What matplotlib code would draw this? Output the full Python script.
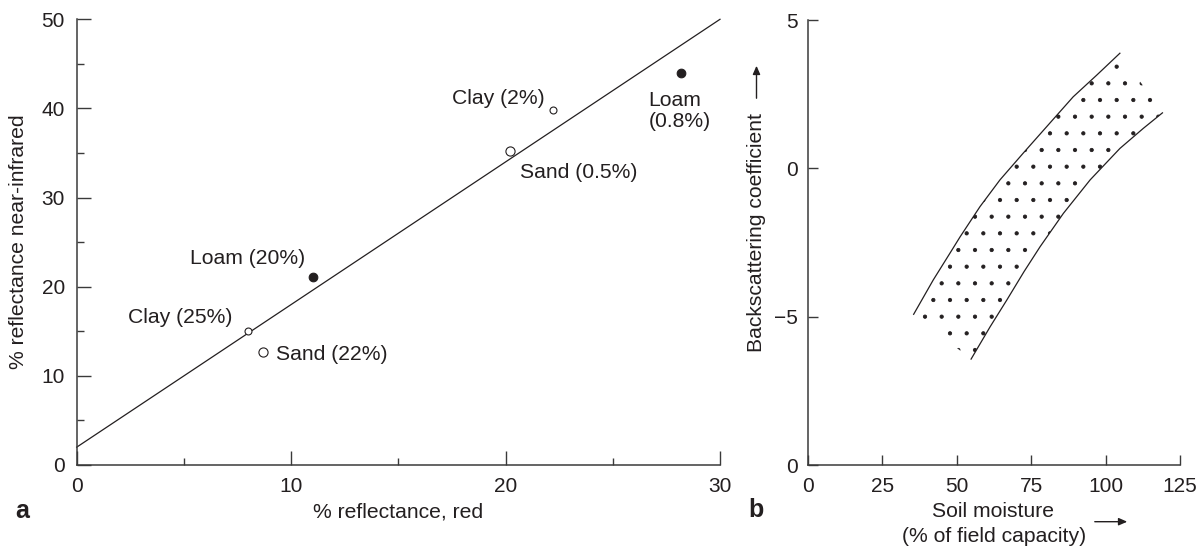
import matplotlib
matplotlib.use("Agg")
import matplotlib.pyplot as plt
from matplotlib.patches import FancyArrowPatch
import numpy as np

plt.rcParams['font.family'] = ['Liberation Sans', 'DejaVu Sans']
plt.rcParams['hatch.linewidth'] = 0.6

INK = '#231f20'
AXC = '#3a3a3a'

# ── panel a: soil reflectance, red vs near-infrared ──────────────────────────
soil_labels = ["Clay (25%)", "Sand (22%)", "Loam (20%)",
               "Clay (2%)", "Sand (0.5%)", "Loam\n(0.8%)"]
soil_kind = ["clay", "sand", "loam", "clay", "sand", "loam"]
red_refl = [8.0, 8.7, 11.0, 22.2, 20.2, 28.2]
nir_refl = [15.0, 12.7, 21.1, 39.8, 35.2, 44.0]

soil_line_x = [0, 30]
soil_line_y = [2, 50]

# ── panel b: backscatter band vs soil moisture ───────────────────────────────
upper_x = [35.5, 42.1, 47.7, 51.1, 57.8, 64.5, 72.3, 79.1, 89.1, 97.0, 104.8]
upper_y = [-4.92, -3.76, -2.86, -2.31, -1.29, -0.39, 0.51, 1.28, 2.41, 3.14, 3.88]
lower_x = [54.8, 61.2, 66.8, 72.6, 78.0, 85.8, 94.8, 104.8, 112.7, 119.1]
lower_y = [-6.43, -5.34, -4.44, -3.48, -2.64, -1.52, -0.39, 0.67, 1.35, 1.87]

b_yticks = [-10, -5, 0, 5]
b_yticklabels = ["0", "\u22125", "0", "5"]
b_xticks = [0, 25, 50, 75, 100, 125]

W, H = 1204, 548
fig = plt.figure(figsize=(W / 100, H / 100), dpi=100)


def px_axes(x0, y0, x1, y1):
    return fig.add_axes([x0 / W, 1 - y1 / H, (x1 - x0) / W, (y1 - y0) / H])


def style(ax):
    for s in ("top", "right"):
        ax.spines[s].set_visible(False)
    for s in ("left", "bottom"):
        ax.spines[s].set_color(AXC)
        ax.spines[s].set_linewidth(1.1)
    ax.tick_params(which="both", direction="in", colors=AXC, width=1.0,
                   labelcolor=INK, labelsize=15)


# panel a
ax1 = px_axes(76.7, 19.3, 720, 465)
style(ax1)
ax1.set_xlim(0, 30)
ax1.set_ylim(0, 50)
ax1.set_xticks([0, 10, 20, 30])
ax1.set_xticks([5, 15, 25], minor=True)
ax1.set_yticks([0, 10, 20, 30, 40, 50])
ax1.set_yticks([5, 15, 25, 35, 45], minor=True)
ax1.tick_params(which="major", length=10)
ax1.tick_params(which="minor", length=5)
ax1.tick_params(axis="y", pad=8.5)
ax1.tick_params(axis="x", pad=8.5)

ax1.plot(soil_line_x, soil_line_y, color=INK, lw=0.9, clip_on=False)

marker_style = {
    "clay": dict(marker="o", ms=5.0, mfc="white", mec=INK, mew=0.8),
    "sand": dict(marker="o", ms=6.6, mfc="white", mec=INK, mew=0.8),
    "loam": dict(marker="o", ms=6.2, mfc=INK, mec=INK, mew=0.8),
}
for x, y, k in zip(red_refl, nir_refl, soil_kind):
    ax1.plot([x], [y], linestyle="none", zorder=3, **marker_style[k])

# label anchors (data coords) and alignment
label_pos = [(7.25, 16.5, "right"), (9.3, 12.45, "left"), (10.66, 23.2, "right"),
             (21.82, 41.1, "right"), (20.65, 32.8, "left"), (26.66, 39.75, "left")]
for txt, (lx, ly, ha) in zip(soil_labels, label_pos):
    ax1.text(lx, ly, txt, ha=ha, va="center", fontsize=15.2, color=INK,
             linespacing=1.15)

ax1.text(0.5, -0.105, "% reflectance, red", transform=ax1.transAxes,
         ha="center", va="center", fontsize=15.2, color=INK)
ax1.text(-0.0905, 0.5, "% reflectance near-infrared", transform=ax1.transAxes,
         ha="center", va="center", rotation=90, fontsize=15.2, color=INK)

# panel b
ax2 = px_axes(808, 20, 1180, 465)
style(ax2)
ax2.set_xlim(0, 125)
ax2.set_ylim(-10, 5)
ax2.set_xticks(b_xticks)
ax2.set_yticks(b_yticks)
ax2.set_yticklabels(b_yticklabels)
ax2.tick_params(which="major", length=7.5)
ax2.tick_params(axis="y", pad=7.5)
ax2.tick_params(axis="x", pad=8.5)

band_x = np.concatenate([upper_x, lower_x[::-1]])
band_y = np.concatenate([upper_y, lower_y[::-1]])
ax2.fill(band_x, band_y, facecolor="none", edgecolor=INK, linewidth=0, hatch=".")
ax2.plot(upper_x, upper_y, color=INK, lw=0.9)
ax2.plot(lower_x, lower_y, color=INK, lw=0.9)


# axis titles with arrows (figure pixel coords)
def ftxt(px, py, s, size=15.2, **kw):
    fig.text(px / W, 1 - py / H, s, color=INK, fontsize=size, **kw)


def farrow(p0, p1):
    fig.add_artist(FancyArrowPatch(
        (p0[0] / W, 1 - p0[1] / H), (p1[0] / W, 1 - p1[1] / H),
        transform=fig.transFigure,
        arrowstyle="-|>,head_length=5,head_width=2.2", color=INK, lw=1.0))


ftxt(756, 233, "Backscattering coefficient", rotation=90, ha="center", va="center")
farrow((756.5, 101), (756.5, 63))
ftxt(993, 511.7, "Soil moisture", ha="center", va="center")
ftxt(994, 536, "(% of field capacity)", ha="center", va="center")
farrow((1092, 521.7), (1130, 521.7))

# panel letters
ftxt(22, 511, "a", size=18, ha="center", va="center", fontweight="bold")
ftxt(756, 510, "b", size=18, ha="center", va="center", fontweight="bold")

fig.savefig("out.png", dpi=100)
